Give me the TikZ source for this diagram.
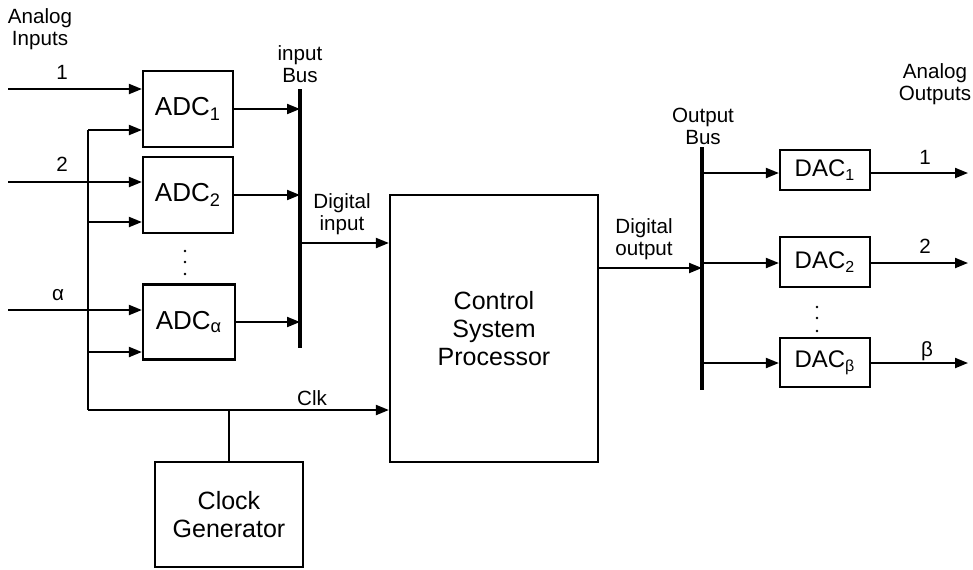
\documentclass[tikz,border=0pt]{standalone}
\usepackage{fontspec}
\setmainfont{Liberation Sans}
\usetikzlibrary{arrows.meta,positioning,calc}

\begin{document}
\begin{tikzpicture}[x=0.5pt, y=-0.5pt, line width=1pt,
    >={Triangle[length=6.5pt,width=5pt]},
    blk/.style={draw, line width=1.1pt, inner sep=0pt, align=center},
    lbl/.style={font=\fontsize{10.3}{11}\selectfont, align=center, inner sep=0pt},
    bus/.style={line width=2.3pt}]
    \useasboundingbox (0,0) rectangle (973,569);

    \node[lbl] at (40, 29) {Analog\\Inputs};
    \node[blk, minimum width=45pt, minimum height=38pt, font=\fontsize{13}{15}\selectfont] (adc1) at (188, 109) {ADC\textsubscript{1}};
    \node[blk, minimum width=45pt, minimum height=38pt, font=\fontsize{13}{15}\selectfont] (adc2) at (188, 195) {ADC\textsubscript{2}};
    \node[blk, minimum width=46pt, minimum height=37.5pt, font=\fontsize{13}{15}\selectfont] (adca) at (189, 322) {ADC\textsubscript{α}};
    \node[blk, minimum width=104pt, minimum height=133.5pt, font=\fontsize{12.5}{14}\selectfont] (csp) at (494, 328.5) {Control\\System\\Processor};
    \node[blk, minimum width=74pt, minimum height=52.5pt, font=\fontsize{12.5}{14}\selectfont] (clk) at (229, 514.5) {Clock\\Generator};
    \node[blk, minimum width=45pt, minimum height=20pt, font=\fontsize{12}{13}\selectfont] (dac1) at (825, 170) {DAC\textsubscript{1}};
    \node[blk, minimum width=45pt, minimum height=25pt, font=\fontsize{12}{13}\selectfont] (dac2) at (825, 262) {DAC\textsubscript{2}};
    \node[blk, minimum width=45pt, minimum height=24.5pt, font=\fontsize{12}{13}\selectfont] (dacb) at (825, 362.5) {DAC\textsubscript{β}};

    \coordinate (in1) at (8, 89);
    \coordinate (in2) at (8, 182);
    \coordinate (ina) at (8, 310);
    \coordinate (ctop) at (88, 130);
    \coordinate (cbot) at (88, 410);
    \coordinate (ibtop) at (300, 89);
    \coordinate (ibbot) at (300, 348);
    \coordinate (obtop) at (702, 147);
    \coordinate (obbot) at (702, 390);
    \coordinate (out1) at (968, 173);
    \coordinate (out2) at (968, 263);
    \coordinate (outb) at (968, 363);

    \draw[bus] (ibtop) -- (ibbot);
    \draw[bus] (obtop) -- (obbot);

    \draw[->] (in1) -- (in1 -| adc1.west);
    \draw[->] (in2) -- (in2 -| adc2.west);
    \draw[->] (ina) -- (ina -| adca.west);
    \draw (ctop) -- (cbot);
    \draw[->] (ctop) -- (ctop -| adc1.west);
    \draw[->] (88, 222) -- (adc2.west |- 0, 222);
    \draw[->] (88, 352) -- (adca.west |- 0, 352);
    \draw[->] (cbot) -- (cbot -| csp.west);
    \draw (clk.north) -- (clk.north |- cbot);

    \draw[->] (adc1.east) -- (adc1.east -| ibtop);
    \draw[->] (adc2.east) -- (adc2.east -| ibtop);
    \draw[->] (adca.east) -- (adca.east -| ibtop);
    \draw[->] (300, 243) -- (csp.west |- 0, 243);
    \draw[->] (csp.east |- 0, 268) -- (702, 268);

    \draw[->] (702, 173) -- (dac1.west |- 0, 173);
    \draw[->] (702, 263) -- (dac2.west |- 0, 263);
    \draw[->] (702, 363) -- (dacb.west |- 0, 363);
    \draw[->] (dac1.east |- out1) -- (out1);
    \draw[->] (dac2.east |- out2) -- (out2);
    \draw[->] (dacb.east |- outb) -- (outb);

    \node[lbl] at (62, 72) {1};
    \node[lbl] at (62, 164) {2};
    \node[lbl] at (58, 295) {α};
    \node[lbl] at (300, 64) {input\\Bus};
    \node[lbl] at (342, 214) {Digital\\input};
    \node[lbl] at (312, 398) {Clk};
    \node[lbl] at (644, 239) {Digital\\output};
    \node[lbl] at (703, 126) {Output\\Bus};
    \node[lbl] at (935, 84) {Analog\\Outputs};
    \node[lbl] at (925, 157) {1};
    \node[lbl] at (925, 246) {2};
    \node[lbl] at (927, 351) {β};

    \foreach \y in {251, 262, 274} \fill (185, \y) circle (1.4);
    \foreach \y in {307, 318, 331} \fill (817, \y) circle (1.4);
\end{tikzpicture}
\end{document}
